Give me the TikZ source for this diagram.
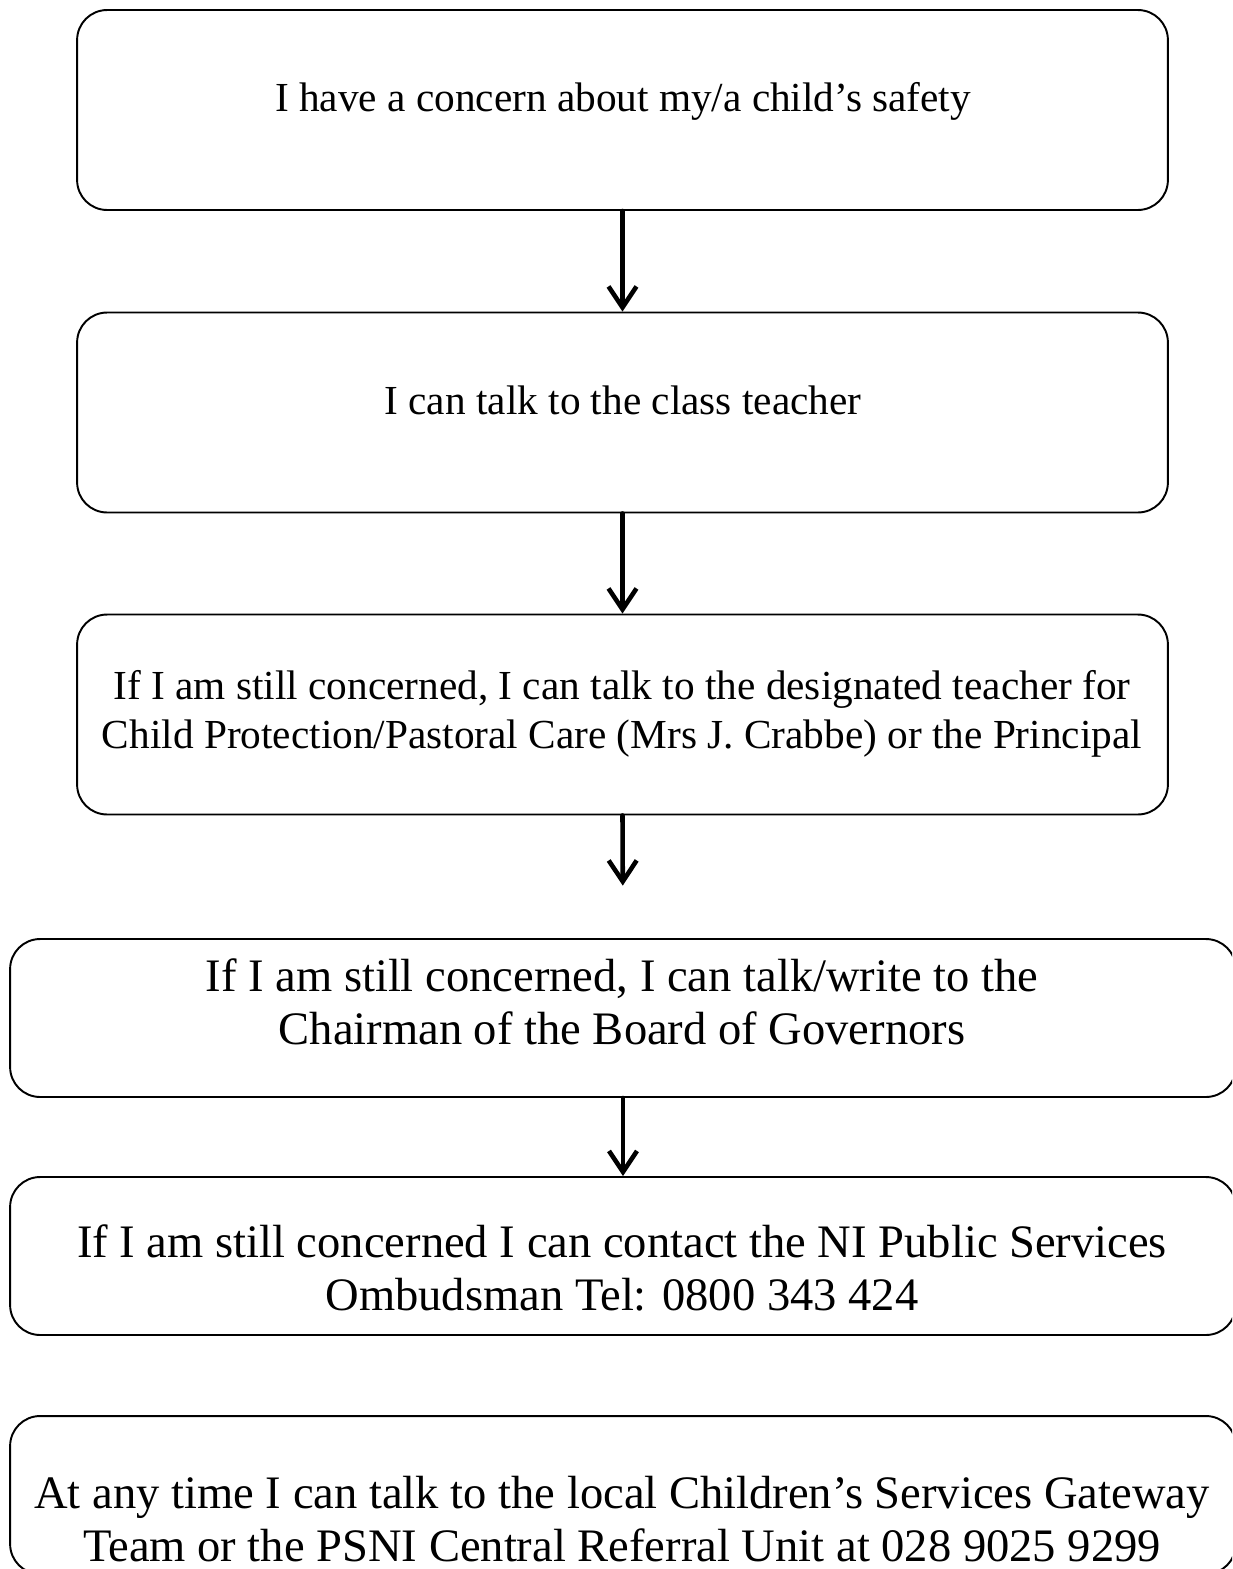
\documentclass[tikz,border=0pt]{standalone}
\usepackage{fontspec}
\setmainfont{Liberation Serif}
\usetikzlibrary{arrows.meta}
\newcommand{\smalltxt}{\fontsize{23.5}{27.8}\selectfont}
\newcommand{\bigtxt}{\fontsize{26.5}{30.4}\selectfont}

\begin{document}
\begin{tikzpicture}[x=0.02cm, y=-0.02cm,
    stepbox/.style={draw, line width=1.1pt, rounded corners=0.6cm, inner sep=0pt},
    narrowbox/.style={stepbox, minimum width=21.82cm, minimum height=4cm},
    widebox/.style={stepbox, minimum width=24.52cm, minimum height=3.16cm},
    smalltext/.style={align=center, inner sep=0pt, font=\smalltxt},
    bigtext/.style={align=center, inner sep=0pt, font=\bigtxt},
    flow/.style={line width=2.6pt, line cap=round, -{Straight Barb[length=4.2mm, width=5.6mm]}}]
    \clip (0, 0) rectangle (1232, 1569);

    % First steps in school
    \node[narrowbox] (concern) at (622.5, 110) {};
    \node[smalltext, anchor=base] (concerntxt) at (623, 111) {I have a concern about my/a child’s safety};

    \node[narrowbox] (teacher) at (622.5, 412.5) {};
    \node[smalltext, anchor=base] (teachertxt) at (623, 414) {I can talk to the class teacher};

    \node[narrowbox] (designated) at (622.5, 714.5) {};
    \node[smalltext] (designatedtxt) at (622, 714) {If I am still concerned, I can talk to the designated teacher for\\ Child Protection/Pastoral Care (Mrs J. Crabbe) or the Principal};

    % Outside the school
    \node[widebox] (governors) at (623, 1018) {};
    \node[bigtext] (governorstxt) at (622, 1002) {If I am still concerned, I can talk/write to the\\ Chairman of the Board of Governors};

    \node[widebox] (ombudsman) at (623, 1256) {};
    \node[bigtext] (ombudsmantxt) at (622, 1268) {If I am still concerned I can contact the NI Public Services\\ Ombudsman Tel: 0800 343 424};

    \node[widebox] (gateway) at (623, 1495) {};
    \node[bigtext] (gatewaytxt) at (622, 1519) {At any time I can talk to the local Children’s Services Gateway\\ Team or the PSNI Central Referral Unit at 028 9025 9299};

    % Arrows
    \draw[flow] (concern.south) -- (teacher.north);
    \draw[flow] (teacher.south) -- (designated.north);
    \draw[flow, shorten >=1.05cm] (designated.south) -- (governors.north);
    \draw[flow] (governors.south) -- (ombudsman.north);
\end{tikzpicture}
\end{document}
